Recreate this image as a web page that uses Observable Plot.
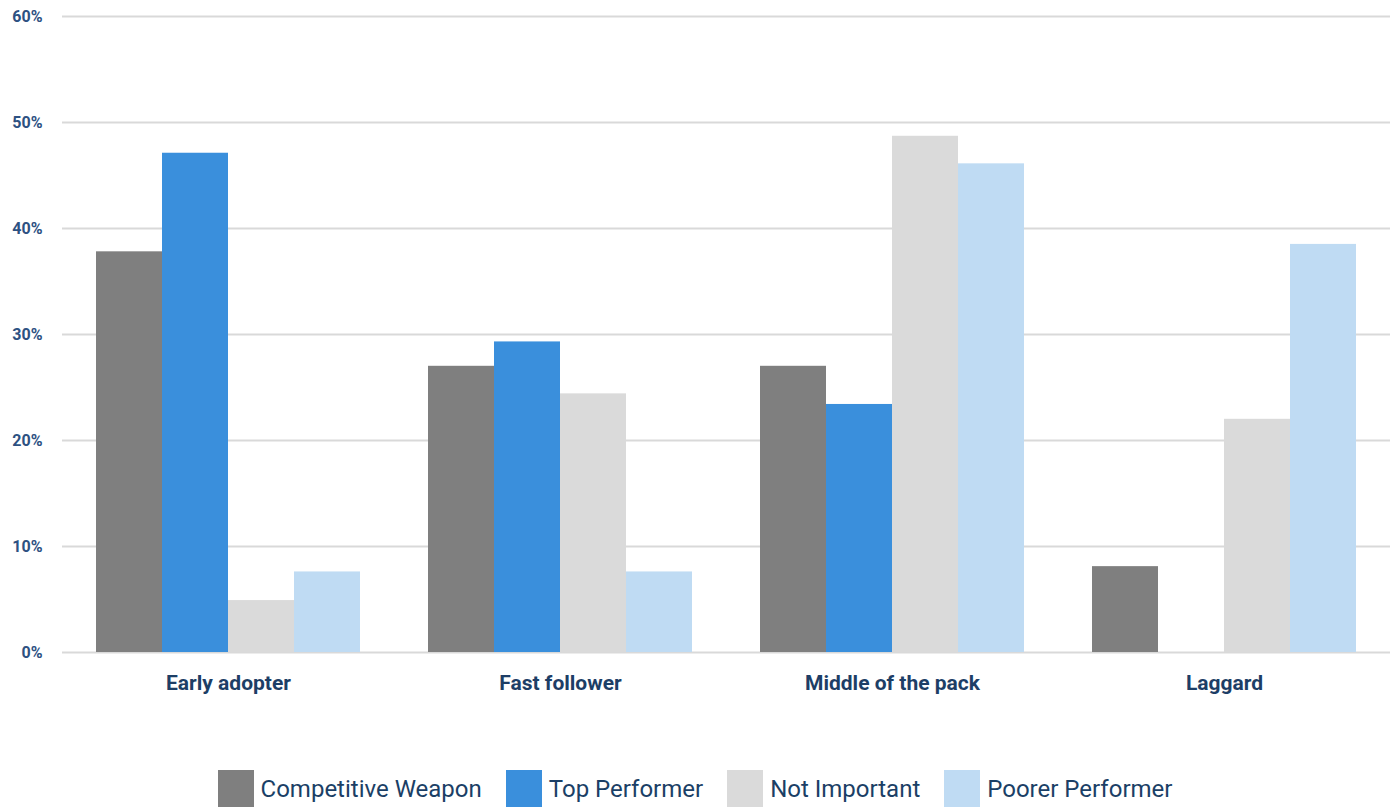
<!DOCTYPE html>
<html>
<head>
<meta charset="utf-8">
<script src="https://cdn.jsdelivr.net/npm/d3@7"></script>
<script src="https://cdn.jsdelivr.net/npm/@observablehq/plot@0.6"></script>
<style>
  html, body { margin: 0; padding: 0; background: #ffffff; }
  body { width: 1390px; height: 808px; overflow: hidden; font-family: Roboto, "Noto Sans", sans-serif; }
  #chart svg { display: block; }
  #legend { display: flex; justify-content: center; align-items: center; margin-top: 70px; gap: 0; }
  .item { display: flex; align-items: center; margin: 0 12px; }
  .sw { width: 36px; height: 37px; margin-right: 7px; }
  .lab { font-size: 24px; color: #1b3f66; font-family: Roboto, sans-serif; }
</style>
</head>
<body>
<div id="chart"></div>
<div id="legend"></div>
<script>
const categories = ["Early adopter", "Fast follower", "Middle of the pack", "Laggard"];
const series = ["Competitive Weapon", "Top Performer", "Not Important", "Poorer Performer"];
const competitiveWeapon = [37.8, 27.0, 27.0, 8.1];
const topPerformer = [47.1, 29.3, 23.4, 0];
const notImportant = [4.9, 24.4, 48.7, 22.0];
const poorerPerformer = [7.6, 7.6, 46.1, 38.5];
const colors = ["#7f7f7f", "#3a8fdc", "#dadada", "#bfdbf3"];
const yTicks = [0, 10, 20, 30, 40, 50, 60];

const seriesValues = [competitiveWeapon, topPerformer, notImportant, poorerPerformer];
const data = [];
categories.forEach((c, i) => {
  series.forEach((s, j) => {
    data.push({category: c, series: s, value: seriesValues[j][i]});
  });
});

const chart = Plot.plot({
  width: 1390,
  height: 700,
  marginLeft: 61,
  marginRight: 0,
  marginTop: 16,
  marginBottom: 48,
  style: {background: "#ffffff"},
  fx: {domain: categories, padding: 0, label: null},
  x: {domain: series, axis: null, paddingInner: 0, paddingOuter: 0.5},
  y: {domain: [0, 60], label: null, axis: null},
  color: {domain: series, range: colors},
  marks: [
    Plot.gridY(yTicks, {stroke: "#d9d9d9", strokeOpacity: 1, strokeWidth: 2}),
    Plot.barY(data, {fx: "category", x: "series", y: "value", fill: "series", insetLeft: 0, insetRight: 0}),
    Plot.axisY(yTicks, {
      tickSize: 0, tickPadding: 20, tickFormat: d => d + "%",
      fontSize: 16, fontWeight: 700, fill: "#2d5182", label: null,
      fontFamily: "Roboto, sans-serif"
    }),
    Plot.axisFx({
      anchor: "bottom", tickSize: 0, tickPadding: 23, fontSize: 21,
      fontWeight: 700, fill: "#1d3e66", label: null, fontFamily: "Roboto, sans-serif"
    })
  ]
});
document.getElementById("chart").appendChild(chart);

const legend = document.getElementById("legend");
series.forEach((s, i) => {
  const item = document.createElement("div");
  item.className = "item";
  const sw = document.createElement("div");
  sw.className = "sw";
  sw.style.background = colors[i];
  const lab = document.createElement("span");
  lab.className = "lab";
  lab.textContent = s;
  item.appendChild(sw);
  item.appendChild(lab);
  legend.appendChild(item);
});
</script>
</body>
</html>
